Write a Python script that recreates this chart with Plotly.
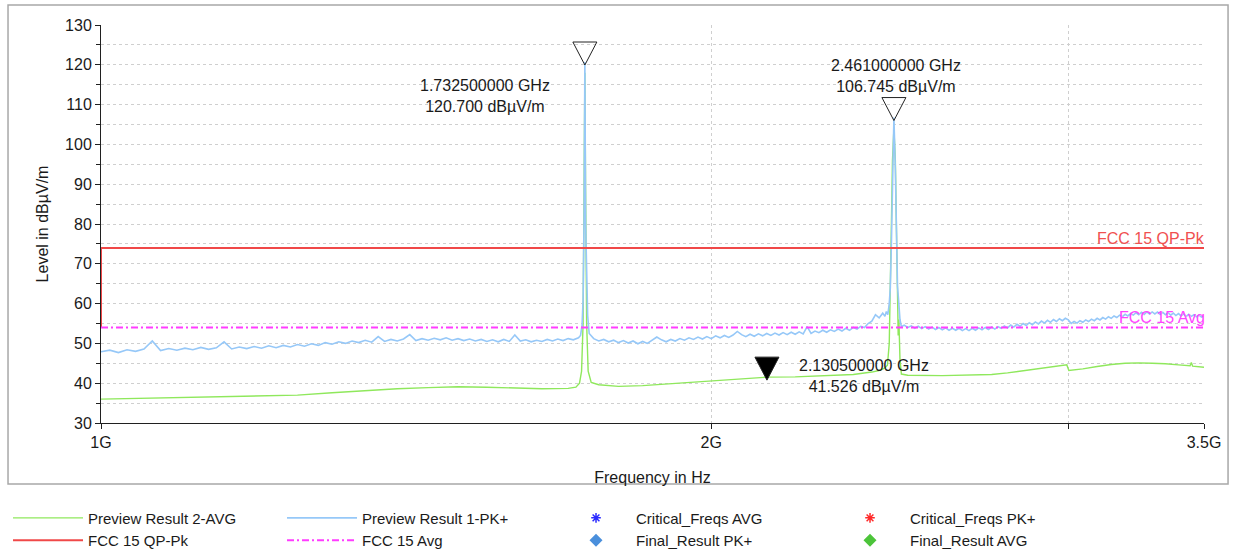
import numpy as np
import plotly.graph_objects as go

FONT = "Liberation Sans, Arial, sans-serif"
TEXT = "#1a1a1a"

# ---------------- Preview Result 1-PK+ (frequency in MHz, level in dBuV/m) ----------------
PK_FREQ_A = list(range(1000, 1721, 10))
PK_LEVEL_A = [
    47.9, 48.3, 47.7, 48.4, 48.0, 48.6, 50.6, 48.2, 48.7, 48.3,
    48.8, 48.4, 49.0, 48.5, 48.9, 50.4, 48.6, 49.1, 48.7, 49.2,
    48.8, 49.4, 48.9, 49.5, 49.1, 49.7, 49.3, 49.9, 49.5, 50.2,
    49.8, 50.4, 50.0, 50.6, 50.2, 50.8, 50.3, 51.7, 50.5, 51.0,
    50.6, 51.1, 52.2, 50.7, 51.2, 50.8, 51.3, 50.9, 51.4, 50.8,
    51.2, 50.7, 51.1, 50.6, 51.0, 50.5, 50.9, 50.4, 51.0, 50.5,
    52.1, 50.6, 50.9, 50.4, 50.8, 50.5, 51.0, 50.6, 51.1, 50.7,
    51.2, 50.9, 51.4,
]
PK_FREQ_PEAK1 = [1724, 1727, 1729, 1731, 1732.5, 1734, 1736, 1738, 1741]
PK_LEVEL_PEAK1 = [52.0, 54.5, 61.0, 82.0, 120.7, 80.0, 62.5, 57.0, 52.5]

PK_FREQ_B = list(range(1750, 2431, 10))
PK_LEVEL_B = [
    51.2, 50.6, 51.0, 50.4, 50.8, 50.2, 50.7, 50.1, 50.6, 49.9,
    50.5, 50.0, 50.7, 51.6, 50.9, 50.4, 51.0, 50.6, 51.2, 50.8,
    51.4, 51.0, 51.6, 51.1, 51.7, 51.2, 51.9, 51.4, 52.0, 51.5,
    52.1, 53.0, 52.2, 51.7, 52.3, 51.8, 52.4, 51.9, 52.5, 52.0,
    52.6, 52.1, 52.7, 52.2, 52.8, 52.3, 52.9, 52.4, 54.2, 52.5,
    53.1, 52.7, 53.3, 52.8, 53.4, 53.0, 53.6, 53.1, 53.8, 53.3,
    54.0, 53.6, 54.3, 54.0, 55.0, 55.6, 57.2, 56.4, 57.6,
]
PK_FREQ_PEAK2 = [2436, 2440, 2444, 2448, 2451, 2454, 2457, 2461, 2465, 2468, 2471, 2474, 2478, 2482]
PK_LEVEL_PEAK2 = [56.8, 58.0, 57.2, 60.0, 64.0, 75.0, 92.0, 106.745, 94.0, 78.0, 64.5, 61.0, 56.0, 54.2]

PK_FREQ_C = list(range(2490, 3501, 10))
PK_LEVEL_C = [
    54.6, 54.0, 54.4, 53.8, 54.3, 53.7, 54.2, 53.6, 54.1, 53.5,
    54.0, 53.4, 53.9, 53.3, 53.8, 53.3, 53.8, 53.2, 53.7, 53.2,
    53.8, 53.3, 53.9, 53.4, 54.0, 53.5, 54.1, 53.6, 54.2, 53.8,
    54.4, 53.9, 54.6, 54.1, 54.8, 54.3, 55.0, 54.5, 55.2, 54.7,
    55.4, 54.9, 55.6, 55.1, 55.8, 55.3, 56.0, 55.5, 56.2, 55.7,
    56.3, 55.9, 55.0, 55.5, 55.1, 55.7, 55.3, 55.9, 55.5, 56.1,
    55.7, 56.3, 55.9, 56.5, 56.1, 56.7, 56.3, 56.9, 56.5, 57.1,
    56.7, 57.3, 56.9, 57.5, 57.1, 57.7, 57.2, 57.8, 57.3, 57.9,
    57.4, 57.9, 57.4, 57.9, 57.3, 57.8, 57.2, 57.7, 57.1, 57.6,
    57.0, 57.5, 56.9, 57.4, 56.8, 57.3, 56.8, 57.2, 56.7, 57.1,
    56.6, 56.9,
]

# ---------------- Preview Result 2-AVG ----------------
AVG_FREQ_MHZ = [
    1000, 1050, 1100, 1150, 1200, 1250, 1300, 1350, 1400, 1450, 1500, 1550, 1600, 1650, 1700,
    1715, 1722, 1726, 1729, 1731, 1732.5, 1734, 1736, 1739, 1745,
    1760, 1800, 1850, 1900, 1950, 2000, 2050, 2100, 2130.5,
    2200, 2250, 2300, 2350, 2400, 2420, 2435, 2443,
    2448, 2451, 2454, 2457, 2461, 2465, 2468, 2471, 2473, 2475, 2478, 2482,
    2500, 2600, 2700, 2750, 2800, 2850, 2900, 2950, 2995, 3002,
    3050, 3100, 3150, 3200, 3250, 3300, 3350, 3400, 3445, 3450, 3455, 3500,
]
AVG_LEVEL = [
    36.0, 36.2, 36.5, 36.7, 36.9, 37.0, 37.6, 38.2, 38.6, 38.9, 39.1, 39.0, 38.8, 38.6, 38.7,
    39.0, 40.0, 43.0, 55.0, 90.0, 118.0, 88.0, 55.0, 43.0, 40.2,
    39.6, 39.2, 39.4, 39.8, 40.1, 40.4, 40.8, 41.2, 41.526,
    41.6, 41.8, 42.0, 42.2, 42.8, 43.2, 43.8, 44.5,
    50.0, 62.0, 80.0, 96.0, 104.0, 96.0, 80.0, 58.0, 52.0, 56.0, 46.0, 42.3,
    42.0, 41.9, 42.0, 42.2, 42.6, 43.1, 43.6, 44.1, 44.6, 43.2,
    43.6, 44.2, 44.7, 45.0, 45.1, 45.0, 44.9, 44.6, 44.4, 45.2, 44.3, 44.0,
]

# ---------------- Limit lines ----------------
QP_FREQ_GHZ = [1.0, 1.0, 3.5]
QP_LEVEL = [54.0, 74.0, 74.0]
AVG_LIMIT_FREQ_GHZ = [1.0, 3.5]
AVG_LIMIT_LEVEL = [54.0, 54.0]

# ---------------- Markers ----------------
MARKER_FREQ_GHZ = [1.7325, 2.461, 2.1305]
MARKER_LEVEL = [120.700, 106.745, 41.526]
MARKER_FILLED = [False, False, True]
# label placement per marker: (xanchor, xshift px, yshift px)
MARKER_LABEL_POS = [("right", -33, -34), ("center", 2, 42), ("left", 30, 1)]

X_TICK_GHZ = [1.0, 2.0, 3.0, 3.5]
X_TICK_TEXT = ["1G", "2G", "", "3.5G"]

pk_freq_hz = [f * 1e6 for f in PK_FREQ_A + PK_FREQ_PEAK1 + PK_FREQ_B + PK_FREQ_PEAK2 + PK_FREQ_C]
pk_level = PK_LEVEL_A + PK_LEVEL_PEAK1 + PK_LEVEL_B + PK_LEVEL_PEAK2 + PK_LEVEL_C
avg_freq_hz = [f * 1e6 for f in AVG_FREQ_MHZ]

fig = go.Figure()

fig.add_trace(go.Scatter(x=avg_freq_hz, y=AVG_LEVEL, mode="lines", name="Preview Result 2-AVG",
                         line=dict(color="#8fe85c", width=1.4)))
fig.add_trace(go.Scatter(x=pk_freq_hz, y=pk_level, mode="lines", name="Preview Result 1-PK+",
                         line=dict(color="#96c8f8", width=1.6)))
fig.add_trace(go.Scatter(x=[None], y=[None], mode="markers", name="Critical_Freqs AVG",
                         marker=dict(symbol="asterisk-open", size=8, color="#2a2aff",
                                     line=dict(color="#2a2aff", width=1.5))))
fig.add_trace(go.Scatter(x=[None], y=[None], mode="markers", name="Critical_Freqs PK+",
                         marker=dict(symbol="asterisk-open", size=8, color="#ff2a2a",
                                     line=dict(color="#ff2a2a", width=1.5))))
fig.add_trace(go.Scatter(x=[f * 1e9 for f in QP_FREQ_GHZ], y=QP_LEVEL, mode="lines", name="FCC 15 QP-Pk",
                         line=dict(color="#f04848", width=2)))
fig.add_trace(go.Scatter(x=[f * 1e9 for f in AVG_LIMIT_FREQ_GHZ], y=AVG_LIMIT_LEVEL, mode="lines",
                         name="FCC 15 Avg",
                         line=dict(color="#ff3cff", width=2, dash="7px,3px,2px,3px")))
fig.add_trace(go.Scatter(x=[None], y=[None], mode="markers", name="Final_Result PK+",
                         marker=dict(symbol="diamond", size=10, color="#4a8fdc")))
fig.add_trace(go.Scatter(x=[None], y=[None], mode="markers", name="Final_Result AVG",
                         marker=dict(symbol="diamond", size=10, color="#4cc43a")))

# marker triangles pointing down at the marked level
shapes = []
annotations = []
for f, lvl, filled, (xa, xs, ys) in zip(MARKER_FREQ_GHZ, MARKER_LEVEL, MARKER_FILLED, MARKER_LABEL_POS):
    shapes.append(dict(
        type="path", xref="x", yref="y", xsizemode="pixel", ysizemode="pixel",
        xanchor=f * 1e9, yanchor=lvl,
        path="M-12,20 L12,20 L0,-3 Z",
        line=dict(color="#222222", width=1),
        fillcolor="#000000" if filled else "rgba(255,255,255,0)",
        layer="above",
    ))
    annotations.append(dict(
        x=np.log10(f * 1e9), y=lvl, xref="x", yref="y",
        text=f"{f:.9f} GHz<br>{lvl:.3f} dBµV/m",
        showarrow=False, xanchor=xa, yanchor="middle", xshift=xs, yshift=ys,
        align="center", font=dict(family=FONT, size=16, color=TEXT),
    ))

# limit line labels at the right end
annotations.append(dict(x=1, y=QP_LEVEL[-1], xref="paper", yref="y", text="FCC 15 QP-Pk",
                        showarrow=False, xanchor="right", yanchor="bottom", xshift=3, yshift=-1,
                        font=dict(family=FONT, size=16, color="#f05050")))
annotations.append(dict(x=1, y=AVG_LIMIT_LEVEL[-1], xref="paper", yref="y", text="FCC 15 Avg",
                        showarrow=False, xanchor="right", yanchor="bottom", xshift=3, yshift=-1,
                        font=dict(family=FONT, size=16, color="#ff44ff")))

# outer chart frame
shapes.append(dict(type="rect", xref="paper", yref="paper",
                   x0=-0.0843, x1=1.0218, y0=-0.153, y1=1.050,
                   line=dict(color="#a8a8a8", width=1.5), fillcolor="rgba(0,0,0,0)", layer="below"))

fig.update_layout(
    width=1235, height=553,
    margin=dict(l=101, r=31, t=25, b=130, autoexpand=False),
    paper_bgcolor="white", plot_bgcolor="white",
    font=dict(family=FONT, size=16, color=TEXT),
    shapes=shapes, annotations=annotations,
    showlegend=True,
    legend=dict(orientation="h", x=-0.0843, xanchor="left", y=-0.1975, yanchor="top",
                itemwidth=70, entrywidth=189, entrywidthmode="pixels",
                font=dict(family=FONT, size=15, color=TEXT),
                bgcolor="rgba(0,0,0,0)", tracegroupgap=0),
    xaxis=dict(
        type="log", range=[np.log10(1e9), np.log10(3.5e9)],
        tickvals=[t * 1e9 for t in X_TICK_GHZ], ticktext=X_TICK_TEXT,
        showline=True, linecolor="#202020", linewidth=1,
        ticks="outside", ticklen=5, tickcolor="#202020",
        showgrid=True, gridcolor="#cfcfcf", griddash="dot", gridwidth=1,
        zeroline=False, tickfont=dict(size=16),
        title=dict(text="Frequency in Hz", standoff=21, font=dict(size=16)),
    ),
    yaxis=dict(
        range=[30, 130], tick0=30, dtick=10,
        showline=True, linecolor="#202020", linewidth=1, layer="below traces",
        ticks="outside", ticklen=5, tickcolor="#202020",
        showgrid=True, gridcolor="#cfcfcf", griddash="dot", gridwidth=1,
        zeroline=False, tickfont=dict(size=16),
        minor=dict(dtick=5, ticks="outside", ticklen=4, tickcolor="#202020",
                   showgrid=True, gridcolor="#cfcfcf", griddash="dot"),
        title=dict(text="Level in dBµV/m", standoff=12, font=dict(size=16)),
    ),
)

fig.write_html("out.html")
